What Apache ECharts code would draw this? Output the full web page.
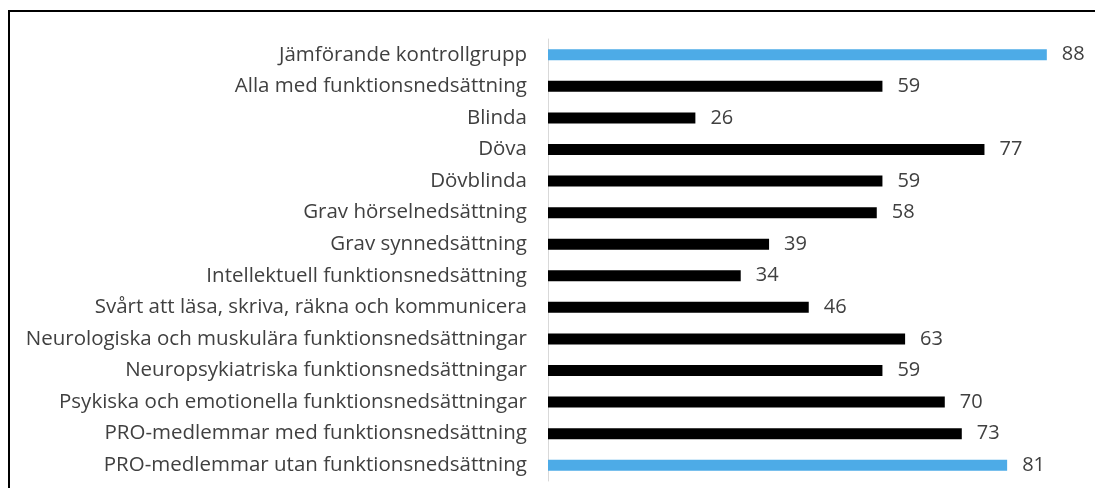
<!DOCTYPE html>
<html><head><meta charset="utf-8">
<script src="https://cdn.jsdelivr.net/npm/echarts@6/dist/echarts.min.js"></script>
<style>html,body{margin:0;padding:0;background:#fff;}#c{width:1095px;height:488px;}
#frame{position:absolute;left:8px;top:10px;width:1200px;height:600px;border:2px solid #000;box-sizing:border-box;pointer-events:none;}</style>
</head><body>
<div id="c"></div><div id="frame"></div>
<script>
var categories = ["Jämförande kontrollgrupp","Alla med funktionsnedsättning","Blinda","Döva","Dövblinda","Grav hörselnedsättning","Grav synnedsättning","Intellektuell funktionsnedsättning","Svårt att läsa, skriva, räkna och kommunicera","Neurologiska och muskulära funktionsnedsättningar","Neuropsykiatriska funktionsnedsättningar","Psykiska och emotionella funktionsnedsättningar","PRO-medlemmar med funktionsnedsättning","PRO-medlemmar utan funktionsnedsättning"];
var values = [88,59,26,77,59,58,39,34,46,63,59,70,73,81];
var highlighted = [true,false,false,false,false,false,false,false,false,false,false,false,false,true];
var chart = echarts.init(document.getElementById('c'));
chart.setOption({
  animation:false,
  grid:{left:548,top:39,right:0,height:442,containLabel:false},
  xAxis:{type:'value',min:0,max:96.5,show:false},
  yAxis:{type:'category',inverse:true,data:categories,
    axisLine:{lineStyle:{color:'#d9d9d9',width:1}},axisTick:{show:false},
    axisLabel:{color:'#404040',fontFamily:'Open Sans',fontSize:20.5,margin:21}},
  series:[{type:'bar',barWidth:11,
    data:values.map(function(v,i){return {value:v,itemStyle:{color:highlighted[i]?'#4DABE7':'#000000'}};}),
    label:{show:true,position:'right',distance:15,color:'#404040',fontFamily:'Open Sans',fontSize:20}}]
});
</script></body></html>
